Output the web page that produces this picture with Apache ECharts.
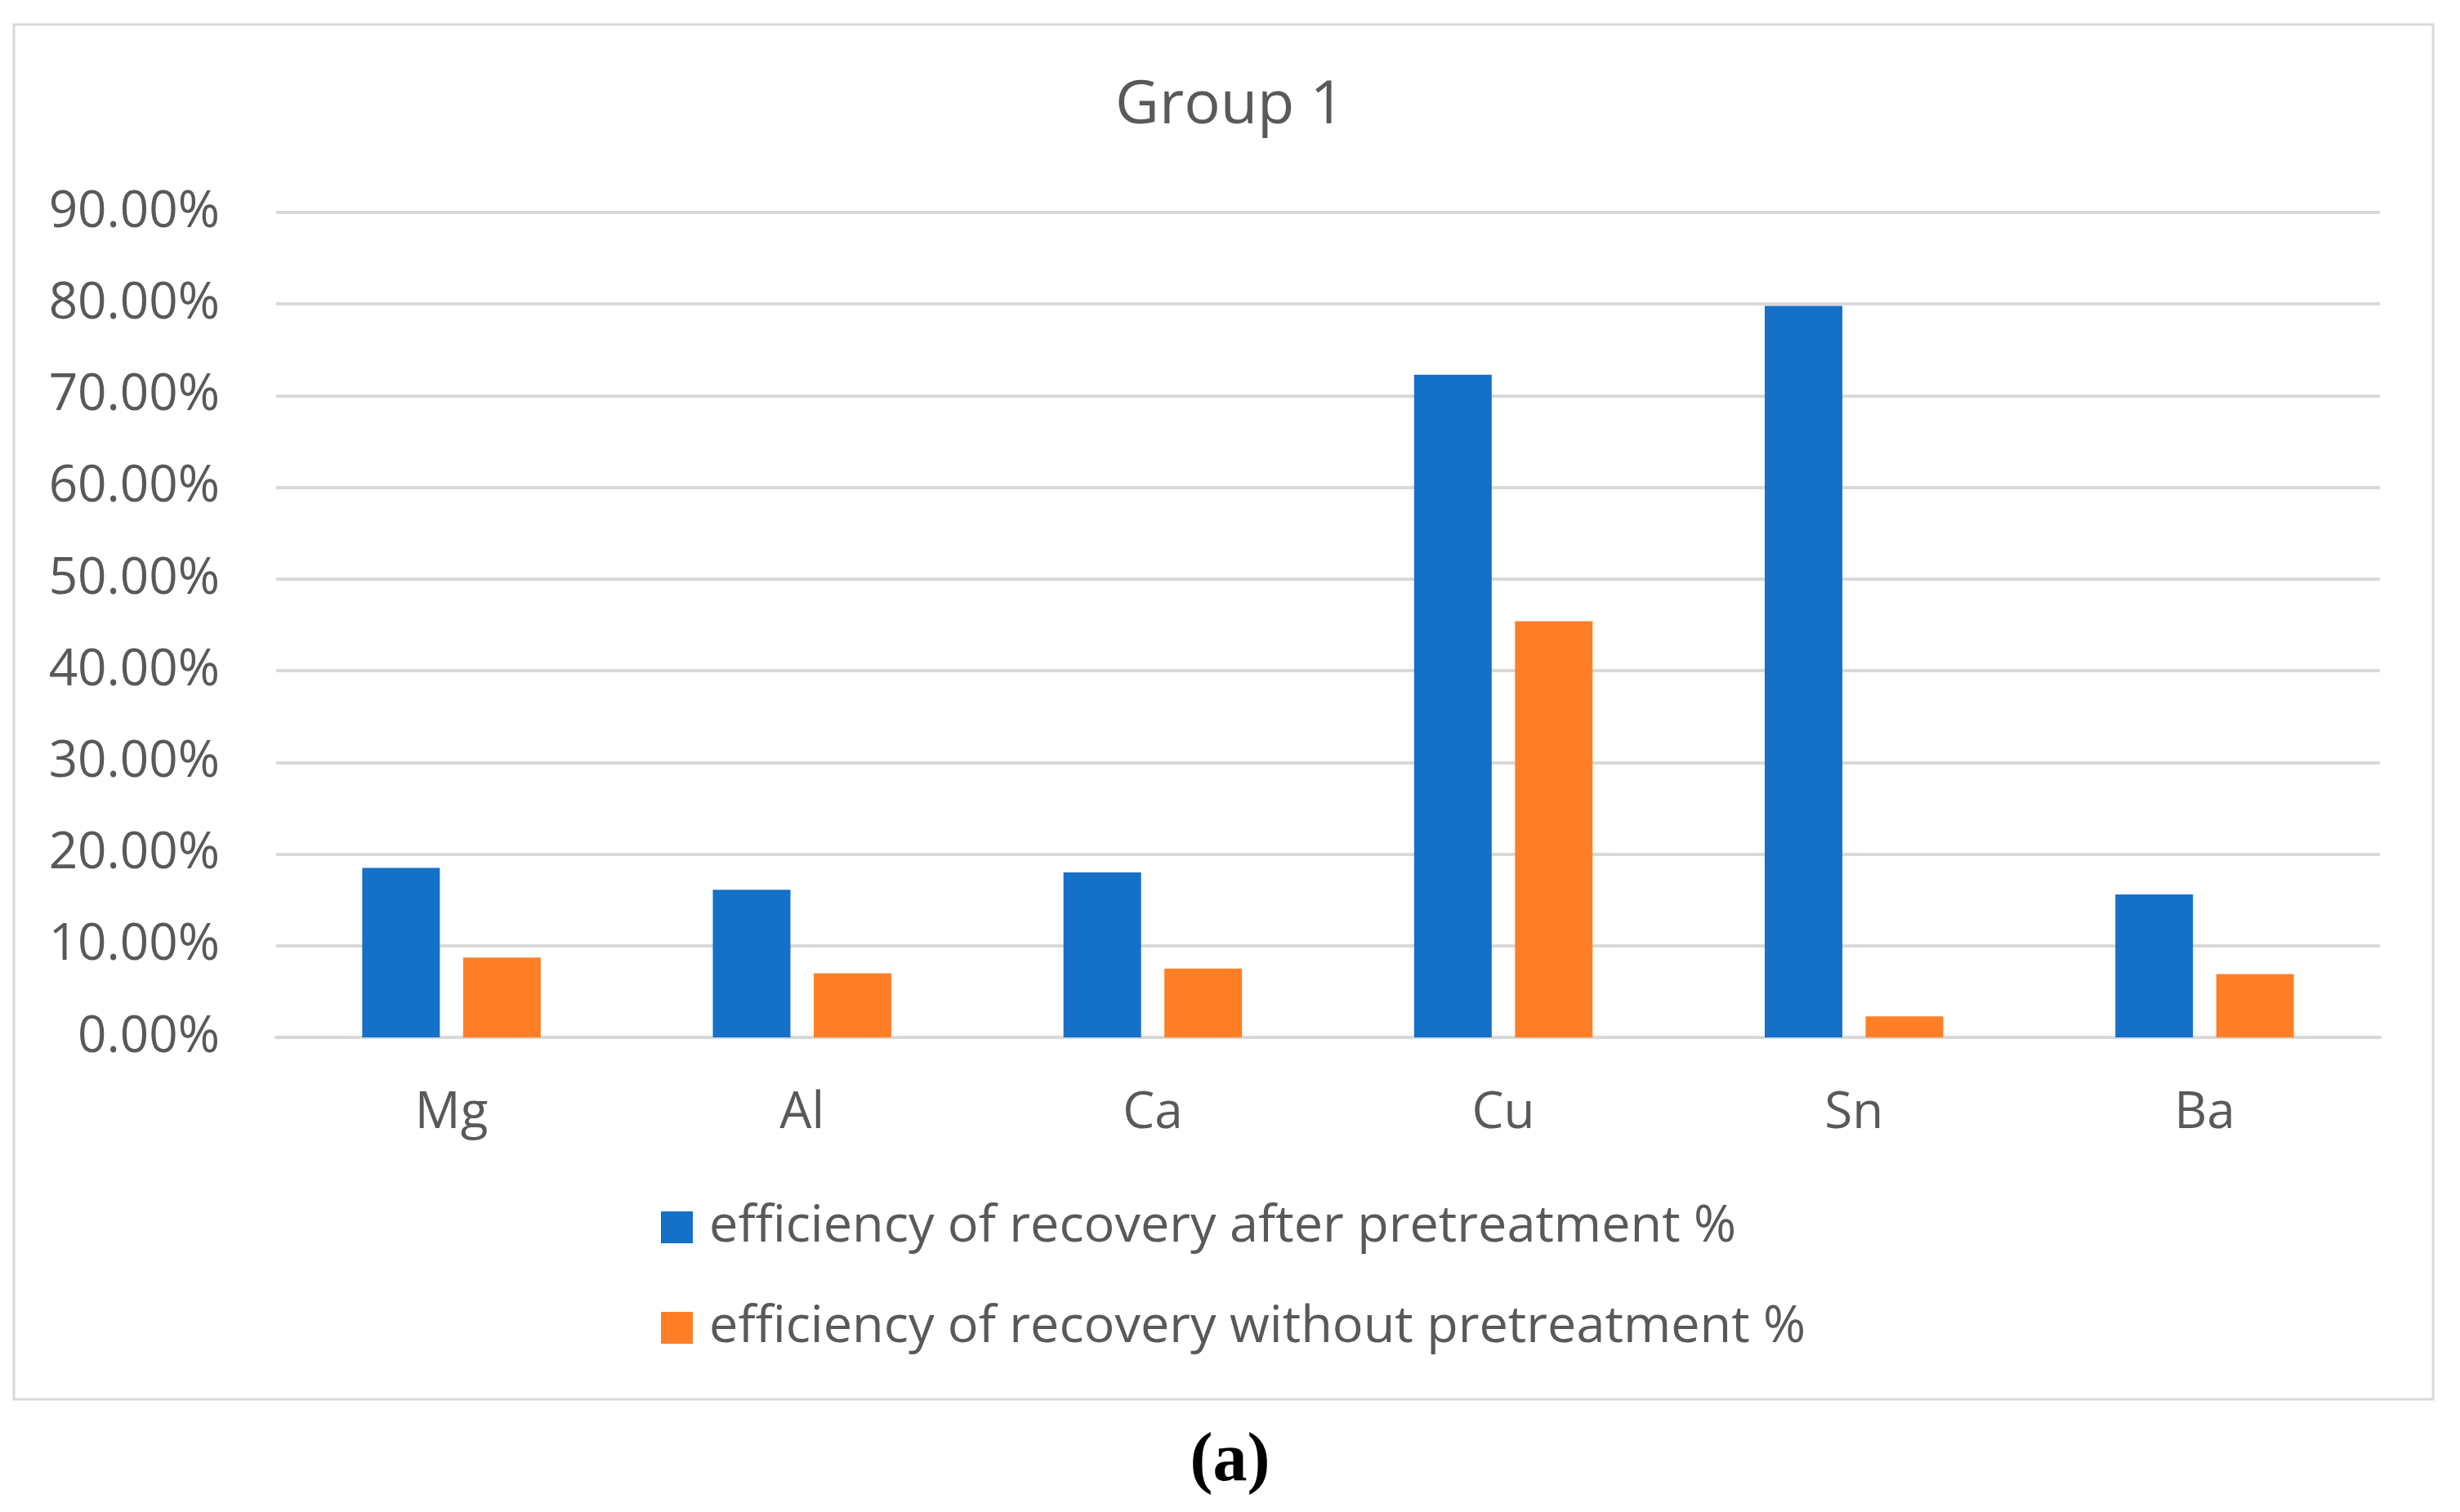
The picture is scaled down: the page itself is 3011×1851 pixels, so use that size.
<!DOCTYPE html>
<html>
<head>
<meta charset="utf-8">
<title>Group 1</title>
<script src="https://cdn.jsdelivr.net/npm/echarts@6/dist/echarts.min.js"></script>
<style>
  html, body { margin: 0; padding: 0; background: #fff; }
  #main { width: 3011px; height: 1851px; }
</style>
</head>
<body>
<div id="main"></div>
<script>
// data (percent)
var elements = ['Mg', 'Al', 'Ca', 'Cu', 'Sn', 'Ba'];
var afterPretreatment = [18.5, 16.1, 18.0, 72.3, 79.8, 15.6];
var withoutPretreatment = [8.7, 7.0, 7.5, 45.4, 2.3, 6.9];
var seriesNames = ['efficiency of recovery after pretreatment %',
                   'efficiency of recovery without pretreatment %'];

var textColor = '#595959';
var gridColor = '#D9D9D9';
var font = '"Open Sans", "Noto Sans", sans-serif';

var chart = echarts.init(document.getElementById('main'));

var option = {
  backgroundColor: '#ffffff',
  animation: false,
  title: [{
    text: 'Group 1',
    left: 'center',
    top: 88,
    textStyle: { color: textColor, fontFamily: font, fontSize: 74, fontWeight: 'normal' }
  }, {
    text: '(a)',
    left: 'center',
    top: 1743,
    textStyle: { color: '#000', fontFamily: '"Liberation Serif", "DejaVu Serif", serif', fontSize: 84, fontWeight: 'bold' }
  }],
  graphic: [{
    type: 'rect',
    shape: { x: 17, y: 30, width: 2961, height: 1683 },
    style: { fill: null, stroke: gridColor, lineWidth: 3 },
    silent: true
  }],
  legend: {
    orient: 'vertical',
    left: 809,
    top: 1471,
    padding: 0,
    itemWidth: 39,
    itemHeight: 39,
    itemGap: 60,
    icon: 'rect',
    data: seriesNames,
    textStyle: { color: textColor, fontFamily: font, fontSize: 63, lineHeight: 63, padding: [0, 0, 0, 15] }
  },
  grid: { left: 338, right: 98, top: 260, bottom: 581 },
  xAxis: {
    type: 'category',
    data: elements,
    axisTick: { show: false },
    axisLine: { lineStyle: { color: gridColor, width: 4 } },
    axisLabel: { color: textColor, fontFamily: font, fontSize: 62, margin: 62 }
  },
  yAxis: {
    type: 'value',
    min: 0,
    max: 90,
    interval: 10,
    axisLine: { show: false },
    axisTick: { show: false },
    splitLine: { lineStyle: { color: gridColor, width: 4 } },
    axisLabel: {
      color: textColor, fontFamily: font, fontSize: 62, margin: 69,
      formatter: function (v) { return v.toFixed(2) + '%'; }
    }
  },
  series: [{
    name: seriesNames[0],
    type: 'bar',
    data: afterPretreatment,
    barWidth: 95,
    barGap: '30%',
    itemStyle: { color: '#1570C8' }
  }, {
    name: seriesNames[1],
    type: 'bar',
    data: withoutPretreatment,
    barWidth: 95,
    barGap: '30%',
    itemStyle: { color: '#FF7F27' }
  }]
};

chart.setOption(option);
</script>
</body>
</html>
